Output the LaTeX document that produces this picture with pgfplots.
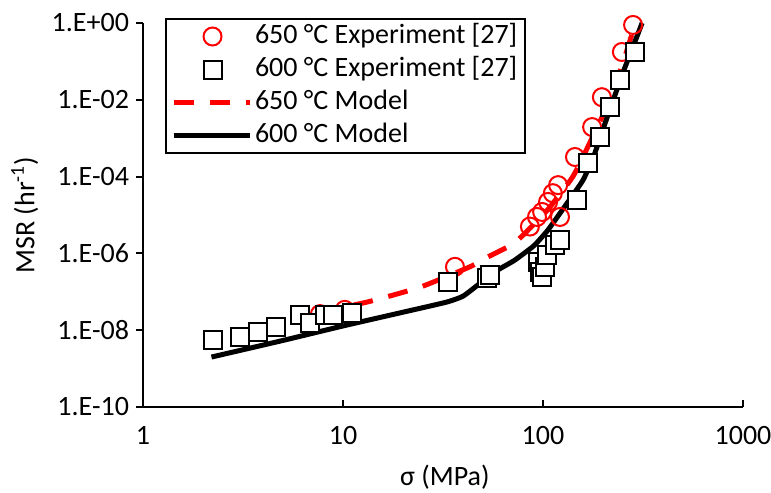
\documentclass[border=0pt]{standalone}
\usepackage{fontspec}
\setmainfont{Carlito}
\usepackage{pgfplots}
\pgfplotsset{compat=1.18}
\begin{document}
\begin{tikzpicture}
\path[use as bounding box] (0,0) rectangle (385.5bp,246.5bp);
\begin{axis}[
  at={(71.5bp,43bp)}, anchor=south west,
  scale only axis, width=300bp, height=192bp,
  xmode=log, ymode=log,
  xmin=1, xmax=1000, ymin=1e-10, ymax=1,
  axis lines*=left,
  axis line style={line width=1bp, black},
  xtick={1,10,100,1000}, xticklabels={1,10,100,1000},
  ytick={1e-10,1e-8,1e-6,1e-4,1e-2,1},
  yticklabels={1.E-10,1.E-08,1.E-06,1.E-04,1.E-02,1.E+00},
  xminorticks=false, yminorticks=false,
  xtick align=inside, ytick align=outside,
  major tick length=3.5bp,
  tick style={line width=1bp, black},
  tick label style={font=\fontsize{14bp}{17bp}\selectfont},
  x tick label style={yshift=-6bp},
  label style={font=\fontsize{14bp}{17bp}\selectfont},
  xlabel={σ (MPa)},
  ylabel={MSR (hr\textsuperscript{-1})},
  xlabel style={at={(axis description cs:0.503,-0.183)}, anchor=center},
  ylabel style={at={(axis description cs:-0.197,0.5)}, anchor=center},
  clip=false,
  legend cell align=left,
  legend style={at={(rel axis cs:0.0367,1.013)}, anchor=north west,
    draw=black, line width=1bp, font=\fontsize{14bp}{17bp}\selectfont,
    inner xsep=2.5bp, inner ysep=0.5bp, row sep=0bp,
    nodes={inner xsep=1.5bp, inner ysep=1.25bp, text height=10.5bp, text depth=3.5bp}},
  legend image code/.code={\draw[mark repeat=2,mark phase=2,#1] plot coordinates {(0bp,0bp) (19.5bp,0bp) (38bp,0bp)};},
]
% 650 C experiment
\addplot[only marks, mark=o, mark size=4.5bp, red, mark options={line width=1bp}] coordinates {
 (7.67,2.63e-8) (10.2,3.39e-8) (36.3,4.47e-7) (86,5.0e-6) (93.3,8.9e-6)
 (99,1.2e-5) (106,2.19e-5) (112,3.7e-5) (119,6.0e-5) (121.6,8.9e-6)
 (144.5,3.24e-4) (176,1.95e-3) (197,1.17e-2) (248,0.176) (282,0.89)
};
\addlegendentry{650 °C Experiment [27]}
% 600 C experiment
\addplot[only marks, mark=square*, mark size=4.5bp, black, mark options={fill=white, line width=1bp}] coordinates {
 (2.24,5.5e-9) (3.05,6.6e-9) (3.76,8.9e-9) (4.62,1.2e-8) (6.1,2.5e-8)
 (6.84,1.55e-8) (8.13,2.5e-8) (8.91,2.5e-8) (11.1,2.8e-8) (33.5,1.8e-7)
 (52.5,2.3e-7) (54.3,2.75e-7) (94.4,6.0e-7) (96.6,3.3e-7) (98.9,2.45e-7)
 (102.3,4.5e-7) (104.7,9.1e-7) (114.8,1.66e-6) (121.6,2.24e-6) (148,2.45e-5)
 (168,2.24e-4) (193,1.07e-3) (216,6.5e-3) (243,3.3e-2) (288,0.176)
};
\addlegendentry{600 °C Experiment [27]}
% 650 C model
\addplot[red, line width=2.5bp, dash pattern=on 10bp off 8bp, smooth, tension=0.3] coordinates {
 (7.5,2.95e-8) (13.2,5.4e-8) (24.3,1.32e-7) (43.2,4.5e-7) (52.5,7.9e-7)
 (68.4,1.58e-6) (78.5,2.8e-6) (106,1.41e-5) (141,1.0e-4) (172,7.9e-4)
 (216,1.0e-2) (251,9.1e-2) (282,0.63) (292,0.95)
};
\addlegendentry{650 °C Model}
% 600 C model
\addplot[black, line width=2.5bp, smooth, tension=0.3] coordinates {
 (2.2,2.0e-9) (5,5.4e-9) (10,1.29e-8) (20,2.95e-8) (33,5.4e-8)
 (40,7.8e-8) (50,1.9e-7) (60,3.8e-7) (72,6.6e-7) (90,1.58e-6)
 (106,4.1e-6) (130,1.82e-5) (158.5,8.1e-5) (180,3.6e-4) (200,1.78e-3)
 (250,4.8e-2) (290,0.355) (313,1.0)
};
\addlegendentry{600 °C Model}
\end{axis}
\end{tikzpicture}
\end{document}
